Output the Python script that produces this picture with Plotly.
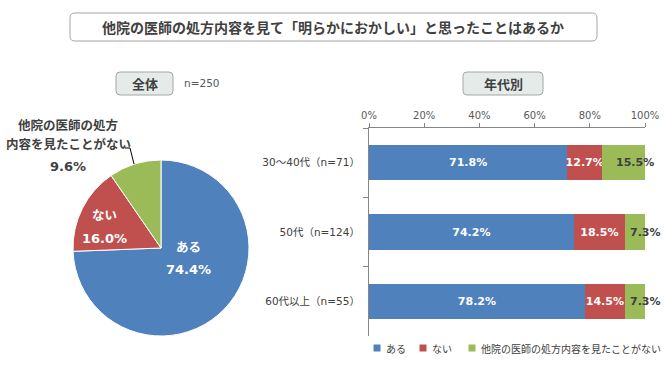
import plotly.graph_objects as go

# ---------------- data ----------------
answer_labels = ["ある", "ない", "他院の医師の処方内容を見たことがない"]
overall_values = [74.4, 16.0, 9.6]          # n=250
age_groups = ["30～40代（n=71）", "50代（n=124）", "60代以上（n=55）"]
age_aru = [71.8, 74.2, 78.2]
age_nai = [12.7, 18.5, 14.5]
age_never = [15.5, 7.3, 7.3]
x_ticks = [0, 20, 40, 60, 80, 100]

title_text = "他院の医師の処方内容を見て「明らかにおかしい」と思ったことはあるか"

# ---------------- style ----------------
W, H = 667, 370
FONT = "DejaVu Sans, Noto Sans CJK JP"
CJK = "Noto Sans CJK JP, DejaVu Sans"
COLORS = ["#4F81BD", "#C0504D", "#9BBB59"]
DARK = "#404040"
GRAY = "#595959"


def px(x):
    return x / W


def py(y):
    return 1 - y / H


def rounded_rect(x0, y0, x1, y1, r):
    pts = [
        f"M{px(x0 + r)},{py(y0)}",
        f"L{px(x1 - r)},{py(y0)}",
        f"Q{px(x1)},{py(y0)} {px(x1)},{py(y0 + r)}",
        f"L{px(x1)},{py(y1 - r)}",
        f"Q{px(x1)},{py(y1)} {px(x1 - r)},{py(y1)}",
        f"L{px(x0 + r)},{py(y1)}",
        f"Q{px(x0)},{py(y1)} {px(x0)},{py(y1 - r)}",
        f"L{px(x0)},{py(y0 + r)}",
        f"Q{px(x0)},{py(y0)} {px(x0 + r)},{py(y0)}",
        "Z",
    ]
    return " ".join(pts)


fig = go.Figure()

# ---------------- pie ----------------
fig.add_trace(go.Pie(
    labels=answer_labels,
    values=overall_values,
    sort=False,
    direction="clockwise",
    rotation=0,
    marker=dict(colors=COLORS, line=dict(color="white", width=1)),
    textinfo="none",
    hoverinfo="skip",
    showlegend=False,
    domain=dict(x=[px(73), px(249)], y=[py(336), py(160)]),
))

# ---------------- stacked bars ----------------
bar_series = [age_aru, age_nai, age_never]
text_colors = ["white", "white", DARK]
for k, (name, vals, col, tc) in enumerate(zip(answer_labels, bar_series, COLORS, text_colors)):
    fig.add_trace(go.Bar(
        y=age_groups,
        x=vals,
        name=name,
        orientation="h",
        marker=dict(color=col, line=dict(width=0)),
        texttemplate="%{x:.1f}%" if k < 2 else None,
        textposition="inside" if k < 2 else "none",
        insidetextanchor="middle",
        textangle=0,
        constraintext="none",
        textfont=dict(family=FONT, size=11, color=tc, weight="bold"),
        hoverinfo="skip",
        showlegend=False,
        xaxis="x",
        yaxis="y",
    ))

fig.update_layout(
    width=W,
    height=H,
    margin=dict(l=0, r=0, t=0, b=0),
    paper_bgcolor="white",
    plot_bgcolor="white",
    barmode="stack",
    bargap=0.49,
    font=dict(family=FONT, size=11, color=DARK),
    xaxis=dict(
        domain=[px(369), px(645)],
        side="top",
        range=[0, 100],
        tickvals=x_ticks,
        ticktext=[f"{t}%" for t in x_ticks],
        showgrid=False,
        zeroline=False,
        showline=True,
        linecolor="#868686",
        linewidth=1,
        ticks="outside",
        ticklen=4,
        tickcolor="#868686",
        tickfont=dict(family=FONT, size=10, color=GRAY),
        fixedrange=True,
        automargin=False,
    ),
    yaxis=dict(
        domain=[py(336), py(128)],
        type="category",
        categoryorder="array",
        categoryarray=age_groups,
        autorange="reversed",
        showgrid=False,
        zeroline=False,
        showline=True,
        linecolor="#868686",
        linewidth=1,
        ticks="outside",
        tickson="boundaries",
        ticklen=5,
        tickcolor="#868686",
        tickfont=dict(family=FONT, size=10.5, color=DARK),
        ticklabelstandoff=6,
        fixedrange=True,
        automargin=False,
    ),
)

shapes = []
annotations = []

# green-segment labels (placed through the data axes, nudged right like the original)
for g, a, n, v in zip(age_groups, age_aru, age_nai, age_never):
    annotations.append(dict(x=a + n + v / 2, y=g, xref="x", yref="y", text=f"{v:.1f}%",
                            showarrow=False, xanchor="center", yanchor="middle", xshift=11,
                            font=dict(family=FONT, size=11, color=DARK, weight="bold")))

# title box
shapes.append(dict(type="path", xref="paper", yref="paper",
                   path=rounded_rect(70, 13, 597, 41, 5),
                   fillcolor="white", line=dict(color="#A6A6A6", width=1), layer="below"))
annotations.append(dict(x=px(333), y=py(27), xref="paper", yref="paper", text=title_text,
                        showarrow=False, xanchor="center", yanchor="middle",
                        font=dict(family=CJK, size=14, color=DARK, weight="bold")))

# section boxes
for (x0, x1, label) in [(116, 173, "全体"), (463, 543, "年代別")]:
    shapes.append(dict(type="path", xref="paper", yref="paper",
                       path=rounded_rect(x0, 72, x1, 95, 4),
                       fillcolor="#E4EBE9", line=dict(color="#A6A6A6", width=1), layer="below"))
    annotations.append(dict(x=px((x0 + x1) / 2), y=py(83.5), xref="paper", yref="paper", text=label,
                            showarrow=False, xanchor="center", yanchor="middle",
                            font=dict(family=CJK, size=13, color=DARK, weight="bold")))
annotations.append(dict(x=px(182), y=py(83), xref="paper", yref="paper", text="n=250",
                        showarrow=False, xanchor="left", yanchor="middle",
                        font=dict(family=FONT, size=10.5, color=GRAY)))

# pie labels
pct = [f"{v:.1f}%" for v in overall_values]
pie_label_pos = [
    # (name lines, x, y_name lines, y_pct, colour)
    ([answer_labels[0]], 188, [246], 269, "white"),
    ([answer_labels[1]], 104, [215], 238, "white"),
    (["他院の医師の処方", "内容を見たことがない"], 68, [124, 143], 166, DARK),
]
for i, (lines, x, ys, yp, col) in enumerate(pie_label_pos):
    for ln, yy in zip(lines, ys):
        annotations.append(dict(x=px(x), y=py(yy), xref="paper", yref="paper", text=ln,
                                showarrow=False, xanchor="center", yanchor="middle",
                                font=dict(family=CJK, size=12.5, color=col, weight="bold")))
    annotations.append(dict(x=px(x), y=py(yp), xref="paper", yref="paper", text=pct[i],
                            showarrow=False, xanchor="center", yanchor="middle",
                            font=dict(family=FONT, size=13, color=col, weight="bold")))

# leader line for the green slice
shapes.append(dict(type="path", xref="paper", yref="paper",
                   path=f"M{px(125)},{py(148)} L{px(130)},{py(148)} L{px(134)},{py(164)}",
                   line=dict(color="black", width=1)))

# legend (manual, compact like the original)
legend_pos = [377, 423, 472]
for name, col, lx in zip(answer_labels, COLORS, legend_pos):
    shapes.append(dict(type="rect", xref="paper", yref="paper",
                       x0=px(lx - 3.5), x1=px(lx + 3.5), y0=py(351.5), y1=py(344.5),
                       fillcolor=col, line=dict(width=0)))
    annotations.append(dict(x=px(lx + 7), y=py(348), xref="paper", yref="paper", text=name,
                            showarrow=False, xanchor="left", yanchor="middle",
                            font=dict(family=CJK, size=10, color=DARK)))

fig.update_layout(shapes=shapes, annotations=annotations)

fig.write_html(
    "out.html",
    config={"displayModeBar": False, "staticPlot": True},
    post_script="document.body.style.margin='0';document.body.style.overflow='hidden';",
)
